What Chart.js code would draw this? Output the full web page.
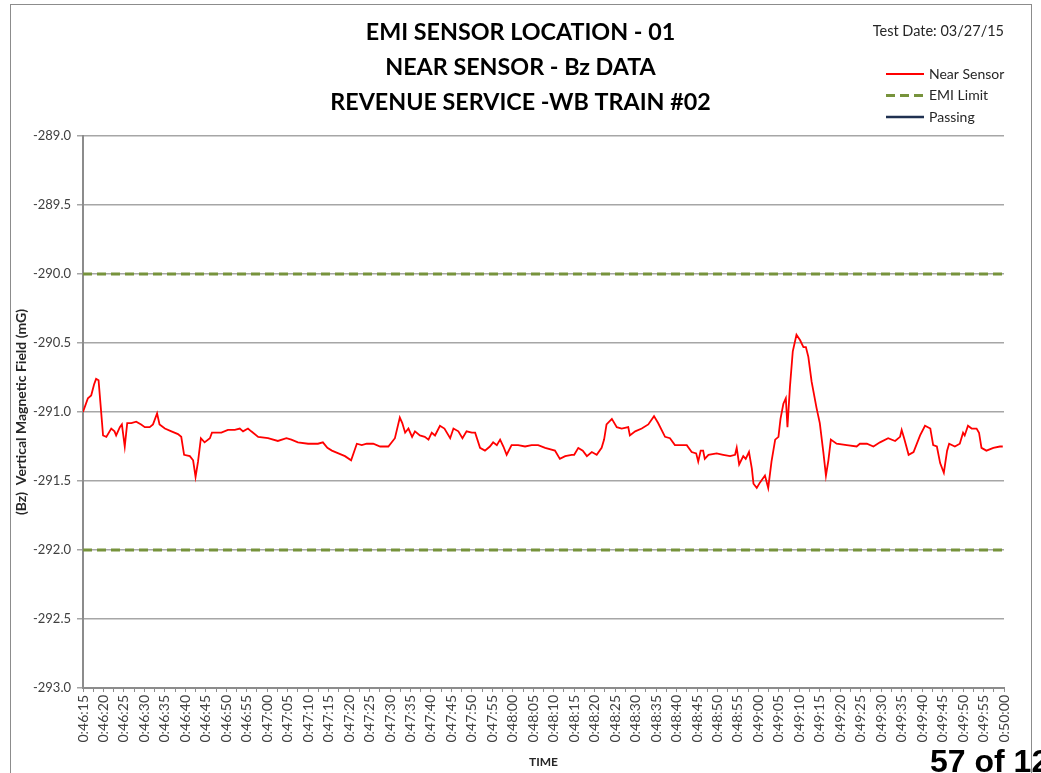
<!DOCTYPE html>
<html>
<head>
<meta charset="utf-8">
<title>EMI Sensor Location - 01</title>
<script src="https://cdn.jsdelivr.net/npm/chart.js@4.4.1/dist/chart.umd.min.js"></script>
<style>
  html, body { margin: 0; padding: 0; background: #fff; overflow: hidden; }
  #wrap { position: relative; width: 1041px; height: 773px; overflow: hidden; }
  #frame { position: absolute; left: 10px; top: 4px; width: 1020px; height: 820px; border: 1px solid #8c8c8c; pointer-events: none; }
  #page-no { position: absolute; left: 930px; top: 745px; font: bold 32px/32px 'Liberation Sans', Arial, sans-serif; color: #000; white-space: nowrap; }
</style>
</head>
<body>
<div id="wrap">
  <canvas id="chart" width="1041" height="773"></canvas>
  <div id="frame"></div>
  <div id="page-no">57 of 12</div>
</div>
<script>
// ── TEXT ──
const titleLines = ['EMI SENSOR LOCATION - 01', 'NEAR SENSOR - Bz DATA', 'REVENUE SERVICE -WB TRAIN #02'];
const testDate = 'Test Date: 03/27/15';
const yTitle = '(Bz)  Vertical Magnetic Field (mG)';
const xTitle = 'TIME';

// ── AXES ──
const startSec = 46 * 60 + 15;     // 0:46:15
const timeRange = [0, 225];        // seconds after start, up to 0:50:00
const yRange = [-293.0, -289.0];

// ── SERIES ──
// seconds after 0:46:15
const tSec = [
  0.0, 1.2, 2.0, 2.7, 3.2, 3.8, 4.3, 4.9, 5.7, 6.9, 7.7, 8.1, 9.0, 9.5, 10.2, 10.8, 11.8, 13.0, 14.2, 15.1,
  16.3, 17.1, 18.1, 18.7, 20.0, 21.6, 23.2, 24.0, 24.7, 26.1, 26.9, 27.5, 28.1, 28.8, 29.7, 31.0, 31.5, 33.8, 35.4, 37.1,
  38.3, 39.1, 40.3, 41.1, 42.8, 45.2, 47.6, 49.7, 50.9, 52.5, 55.0, 57.4, 58.6, 59.7,
  60.8, 62.4, 64.0, 65.5, 66.9, 68.1, 69.3, 70.9, 72.6, 74.6, 76.2, 77.4, 78.0, 78.7, 79.5, 80.4, 81.1, 82.3, 83.5, 84.4,
  85.2, 86.0, 87.2, 88.3, 89.7, 90.5, 91.7, 92.7, 93.7, 95.0, 95.8, 97.0, 98.2, 99.4, 100.2, 101.1, 101.9, 102.7, 103.5, 104.7,
  106.3, 108.0, 109.6, 111.2, 112.9, 115.3, 116.5, 117.8, 119.4,
  120.0, 121.0, 122.1, 123.1, 124.3, 125.5, 126.7, 127.3, 127.9, 129.2, 130.4, 131.6, 133.2, 133.6, 134.9, 136.5, 138.1, 139.5, 140.5, 142.2,
  143.4, 144.6, 146.3, 147.5, 148.7, 149.8, 150.3, 150.9, 151.5, 151.9, 152.8, 154.8, 156.4, 158.1, 159.3, 159.7, 160.3, 161.3, 161.9, 162.7,
  163.4, 163.8, 164.6, 165.4, 166.6, 167.4, 168.2, 169.1, 169.9, 170.4, 171.1, 171.7, 172.1, 172.7, 173.4, 174.3, 175.2, 176.0, 176.6, 177.2,
  178.0, 179.2, 180.0, 180.9, 181.5, 182.1, 182.7, 184.1, 186.6, 189.0, 189.8, 191.5, 193.1, 194.7, 196.7, 198.4, 199.6, 200.0, 200.6, 201.7,
  202.9, 204.5, 205.7, 207.0, 207.7, 208.6, 209.4, 210.3, 211.1, 211.6, 213.0, 214.2, 215.0, 215.4, 216.2, 217.1, 218.3, 218.9, 219.5, 220.7,
  222.4, 224.0, 224.7
];
const nearSensorBz = [
  -291.00, -290.90, -290.88, -290.80, -290.76, -290.77, -290.95, -291.17, -291.18, -291.12, -291.14, -291.17, -291.11, -291.09, -291.25, -291.08, -291.08, -291.07, -291.09, -291.11,
  -291.11, -291.09, -291.01, -291.09, -291.12, -291.14, -291.16, -291.18, -291.31, -291.32, -291.35, -291.47, -291.36, -291.19, -291.22, -291.19, -291.15, -291.15, -291.13, -291.13,
  -291.12, -291.14, -291.12, -291.14, -291.18, -291.19, -291.21, -291.19, -291.20, -291.22, -291.23, -291.23, -291.22, -291.26,
  -291.28, -291.30, -291.32, -291.35, -291.23, -291.24, -291.23, -291.23, -291.25, -291.25, -291.19, -291.04, -291.08, -291.15, -291.12, -291.18, -291.14, -291.17, -291.18, -291.20,
  -291.15, -291.17, -291.10, -291.12, -291.19, -291.12, -291.14, -291.19, -291.14, -291.15, -291.15, -291.26, -291.28, -291.25, -291.22, -291.24, -291.20, -291.25, -291.31, -291.24,
  -291.24, -291.25, -291.24, -291.24, -291.26, -291.28, -291.34, -291.32, -291.31,
  -291.31, -291.26, -291.28, -291.32, -291.29, -291.31, -291.26, -291.20, -291.09, -291.05, -291.11, -291.12, -291.11, -291.17, -291.14, -291.12, -291.09, -291.03, -291.08, -291.18,
  -291.19, -291.24, -291.24, -291.24, -291.29, -291.30, -291.36, -291.28, -291.28, -291.34, -291.31, -291.30, -291.31, -291.32, -291.31, -291.26, -291.38, -291.32, -291.34, -291.29,
  -291.41, -291.52, -291.55, -291.51, -291.46, -291.55, -291.36, -291.20, -291.18, -291.05, -290.94, -290.90, -291.11, -290.82, -290.56, -290.44, -290.48, -290.53, -290.53, -290.60,
  -290.78, -290.97, -291.08, -291.30, -291.46, -291.35, -291.20, -291.23, -291.24, -291.25, -291.23, -291.23, -291.25, -291.22, -291.19, -291.21, -291.18, -291.13, -291.19, -291.31,
  -291.29, -291.17, -291.10, -291.12, -291.24, -291.25, -291.37, -291.44, -291.28, -291.23, -291.25, -291.23, -291.15, -291.17, -291.10, -291.12, -291.12, -291.15, -291.26, -291.28,
  -291.26, -291.25, -291.25
];
const emiLimits = [-290.0, -292.0];
const passing = [];

// ── HELPERS ──
function fmtTime(sec) {
  const s = Math.round(startSec + sec);
  const h = Math.floor(s / 3600), m = Math.floor(s / 60) % 60, ss = s % 60;
  return h + ':' + String(m).padStart(2, '0') + ':' + String(ss).padStart(2, '0');
}

const FONT = 'Lato, "Open Sans", sans-serif';
const GRID = '#a6a6a6';
const AXIS = '#8c8c8c';

// ── DATASETS ──
const datasets = [{
  label: 'Near Sensor',
  data: tSec.map((t, i) => ({ x: t, y: nearSensorBz[i] })),
  borderColor: '#ff0000',
  borderWidth: 1.8,
  pointRadius: 0,
  tension: 0,
  inLegend: true,
}];
emiLimits.forEach((lim, i) => {
  datasets.push({
    label: 'EMI Limit',
    data: timeRange.map(t => ({ x: t, y: lim })),
    borderColor: '#77933c',
    borderWidth: 3,
    borderDash: [9, 5],
    pointRadius: 0,
    inLegend: i === 0,
  });
});
datasets.push({
  label: 'Passing',
  data: passing,
  borderColor: '#1f3050',
  borderWidth: 2.5,
  pointRadius: 0,
  inLegend: true,
});

// ── LEGEND + TEST DATE (drawn at the right of the titles) ──
const sideNotes = {
  id: 'sideNotes',
  afterDraw(chart) {
    const g = chart.ctx;
    g.save();
    g.fillStyle = '#262626';
    g.textBaseline = 'middle';
    g.font = '14.5px ' + FONT;
    g.textAlign = 'right';
    g.fillText(testDate, 1004, 31);

    g.font = '14px ' + FONT;
    g.textAlign = 'left';
    let y = 74;
    chart.data.datasets.forEach(ds => {
      if (!ds.inLegend) return;
      g.strokeStyle = ds.borderColor;
      g.lineWidth = ds.borderWidth;
      g.setLineDash(ds.borderDash || []);
      g.beginPath(); g.moveTo(886, y); g.lineTo(924, y); g.stroke();
      g.setLineDash([]);
      g.fillText(ds.label, 929, y);
      y += 21.5;
    });
    g.restore();
  }
};

new Chart(document.getElementById('chart'), {
  type: 'line',
  data: { datasets },
  plugins: [sideNotes],
  options: {
    responsive: false,
    animation: false,
    layout: { padding: 0 },
    scales: {
      x: {
        type: 'linear',
        min: timeRange[0], max: timeRange[1],
        afterFit: s => { s.height = 85; },
        ticks: {
          stepSize: 2.5,
          autoSkip: false,
          minRotation: 90, maxRotation: 90,
          padding: 3,
          color: '#404040',
          font: { family: FONT, size: 14 },
          callback: v => (v % 5 === 0 ? fmtTime(v) : ''),
        },
        grid: { drawOnChartArea: false, drawTicks: true, tickLength: 4, color: AXIS },
        border: { display: true, color: AXIS, width: 2 },
        title: { display: true, text: xTitle, color: '#262626', font: { family: FONT, size: 12, weight: 'bold' }, padding: { top: 0, bottom: 4 } },
      },
      y: {
        min: yRange[0], max: yRange[1],
        afterFit: s => { s.width = 83; },
        ticks: {
          stepSize: 0.5,
          padding: 6,
          color: '#404040',
          font: { family: FONT, size: 13 },
          callback: v => v.toFixed(1),
        },
        grid: { color: GRID, lineWidth: 1.5, tickLength: 6 },
        border: { display: true, color: AXIS, width: 2 },
        title: { display: true, text: yTitle, color: '#262626', font: { family: FONT, size: 14, weight: 'bold' }, padding: { top: 13, bottom: 0 } },
      },
      // empty right-hand margin, keeps the plot ending at 0:50:00 while the titles stay centred on the page
      margin: {
        position: 'right',
        display: true,
        afterFit: s => { s.width = 37; },
        ticks: { display: false },
        grid: { display: false },
        border: { display: false },
      }
    },
    plugins: {
      legend: { display: false },
      tooltip: { enabled: false },
      title: {
        display: true,
        text: titleLines,
        color: '#000',
        font: { family: FONT, size: 23.3, weight: 'bold', lineHeight: 35 / 23.3 },
        padding: { top: 14.5, bottom: 16.5 },
      }
    }
  }
});
</script>
</body>
</html>
